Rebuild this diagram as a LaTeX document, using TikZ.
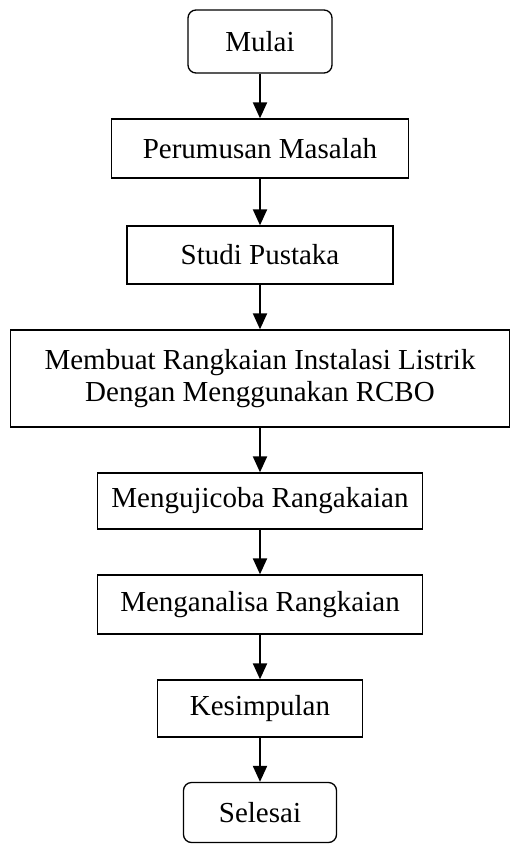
\documentclass[tikz,border=0pt]{standalone}
\usepackage{fontspec}
\setmainfont{Liberation Serif}
\usetikzlibrary{arrows.meta, positioning}

\begin{document}
\begin{tikzpicture}[x=1pt, y=-1pt,
    proses/.style={draw, line width=1.3pt, inner sep=0pt, align=center,
      font=\fontsize{29}{32}\selectfont},
    terminal/.style={proses, rounded corners=8pt},
    alur/.style={-{Triangle[length=16pt, width=14pt]}, line width=2pt}]
  \useasboundingbox (0,0) rectangle (509,845);

  % Start
  \node[terminal, minimum width=144pt, minimum height=63pt] (mulai) at (260,41.5) {Mulai};

  % Steps
  \node[proses, minimum width=297pt, minimum height=59pt] (rumusan) at (260,148.5) {Perumusan Masalah};
  \node[proses, minimum width=266pt, minimum height=58pt] (pustaka) at (260,255) {Studi Pustaka};
  \node[proses, minimum width=499pt, minimum height=97pt] (rangkai) at (260,378.5)
    {Membuat Rangkaian Instalasi Listrik\\Dengan Menggunakan RCBO};
  \node[proses, minimum width=325pt, minimum height=56pt] (uji) at (260,501) {Mengujicoba Rangakaian};
  \node[proses, minimum width=325pt, minimum height=59pt] (analisa) at (260,604.5) {Menganalisa Rangkaian};
  \node[proses, minimum width=205pt, minimum height=57pt] (simpul) at (260,708.5) {Kesimpulan};

  % End
  \node[terminal, minimum width=153pt, minimum height=60pt] (selesai) at (260,812.5) {Selesai};

  % Flow
  \draw[alur] (mulai) -- (rumusan);
  \draw[alur] (rumusan) -- (pustaka);
  \draw[alur] (pustaka) -- (rangkai);
  \draw[alur] (rangkai) -- (uji);
  \draw[alur] (uji) -- (analisa);
  \draw[alur] (analisa) -- (simpul);
  \draw[alur] (simpul) -- (selesai);
\end{tikzpicture}
\end{document}
